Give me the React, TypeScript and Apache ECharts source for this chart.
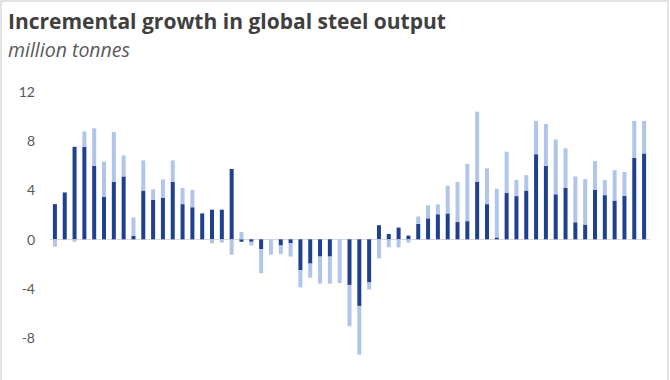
import React, { useEffect, useRef } from "react";
import * as echarts from "echarts";

const darkValues = [
  2.85, 3.8, 7.5, 7.5, 5.95, 3.45, 4.65, 5.1, 0.27, 3.95, 3.2, 3.35, 4.65, 2.85, 2.6,
  2.1, 2.4, 2.4, 5.7, -0.2, -0.2, -0.8, 0, -0.5, -0.3, -2.5, -1.97, -1.4, -1.4, 0, -3.7,
  -5.4, -3.5, 1.14, 0.43, 0.95, 0.3, 1.25, 1.7, 2.03, 2.1, 1.4, 1.47, 4.65, 2.85, 0.15,
  3.75, 3.5, 3.95, 6.9, 5.95, 3.65, 4.17, 1.38, 1.19, 4.0, 3.58, 3.14, 3.52, 6.6, 6.96,
];

const lightValues = [
  -0.6, 0, -0.2, 1.25, 3.05, 2.85, 4.05, 1.7, 1.5, 2.45, 0.85, 1.5, 1.75, 1.3, 1.4,
  0, -0.33, -0.27, -1.25, 0.6, -0.3, -1.95, -1.25, -0.7, -1.1, -1.4, -1.15, -2.2, -2.2, -3.55, -3.35,
  -3.95, -0.57, -1.55, -0.65, -0.65, -0.27, 0.6, 1.05, 0.8, 2.25, 3.25, 4.65, 5.7, 2.9, 3.95,
  3.35, 1.3, 1.25, 2.7, 3.4, 4.45, 3.2, 3.72, 3.69, 2.34, 1.22, 2.46, 1.93, 3.0, 2.64,
];

const categories = darkValues.map((_, i) => `P${i + 1}`);

const yTicks = { min: -12, max: 12, interval: 4 };

const titleText = "Incremental growth in global steel output";
const subtitleText = "million tonnes";

export default function App() {
  const ref = useRef<HTMLDivElement>(null);
  useEffect(() => {
    if (!ref.current) return;
    const chart = echarts.init(ref.current, null, { renderer: "svg" });
    chart.setOption({
      animation: false,
      backgroundColor: "#ffffff",
      textStyle: { fontFamily: "Lato" },
      graphic: [
        {
          type: "rect",
          shape: { x: 1, y: 1, width: 667, height: 420 },
          style: { fill: "none", stroke: "#d9d9d9", lineWidth: 1.5 },
          silent: true,
        },
        {
          type: "text",
          x: 8,
          y: 21,
          style: {
            text: titleText,
            font: "bold 21px 'Open Sans'",
            fill: "#404040",
            verticalAlign: "middle",
          },
        },
        {
          type: "text",
          x: 8,
          y: 49,
          style: {
            text: subtitleText,
            font: "italic 19.5px 'Open Sans'",
            fill: "#595959",
            verticalAlign: "middle",
          },
        },
      ],
      grid: {
        left: 50,
        top: 91.3,
        width: 599,
        height: 296,
        containLabel: false,
        outerBoundsMode: "none",
      },
      xAxis: {
        type: "category",
        data: categories,
        axisLine: { show: true, onZero: true, lineStyle: { color: "#d9d9d9", width: 1 } },
        axisTick: { show: false },
        axisLabel: { show: false },
        splitLine: { show: false },
      },
      yAxis: {
        type: "value",
        min: yTicks.min,
        max: yTicks.max,
        interval: yTicks.interval,
        axisLine: { show: false },
        axisTick: { show: false },
        splitLine: { show: false },
        axisLabel: {
          showMinLabel: false,
          margin: 15,
          color: "#595959",
          fontSize: 14,
          fontFamily: "Lato",
        },
      },
      series: [
        {
          type: "bar",
          name: "dark",
          stack: "total",
          data: darkValues,
          barWidth: 4,
          itemStyle: { color: "#1f3f8f" },
        },
        {
          type: "bar",
          name: "light",
          stack: "total",
          data: lightValues,
          barWidth: 4,
          itemStyle: { color: "#b0c5e9" },
        },
      ],
    });
    return () => chart.dispose();
  }, []);
  return (
    <div
      ref={ref}
      style={{ position: "absolute", left: 0, top: 0, width: 670, height: 380 }}
    />
  );
}
